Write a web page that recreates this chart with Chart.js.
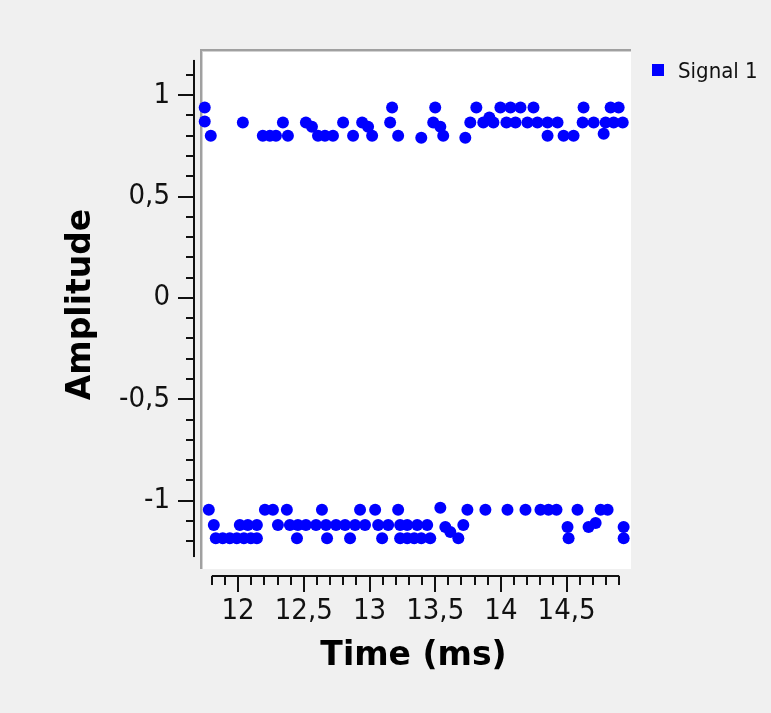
<!DOCTYPE html>
<html>
<head>
<meta charset="utf-8">
<script src="https://cdn.jsdelivr.net/npm/chart.js@4"></script>
<style>
  html, body { margin: 0; padding: 0; background: #f0f0f0; }
  canvas { display: block; }
</style>
</head>
<body>
<canvas id="c" width="771" height="713"></canvas>
<script>
// Labels and tick text
const seriesName = 'Signal 1';
const xTitle = 'Time (ms)';
const yTitle = 'Amplitude';
const xTickValues = [12, 12.5, 13, 13.5, 14, 14.5];
const xTickLabels = ['12', '12,5', '13', '13,5', '14', '14,5'];
const yTickValues = [1, 0.5, 0, -0.5, -1];
const yTickLabels = ['1', '0,5', '0', '-0,5', '-1'];

// Extent of the drawn axis backbones
const xAxisRange = [11.8, 14.9];
const yAxisRange = [-1.278, 1.174];
// Extent of the white plot canvas
const xViewRange = [11.71, 14.99];
const yViewRange = [-1.337, 1.228];

// Samples of the upper cluster (time in ms, amplitude)
const timeUpper = [11.746, 11.746, 11.792, 12.036, 12.188, 12.242, 12.288, 12.341, 12.379, 12.516,
  12.562, 12.608, 12.661, 12.722, 12.799, 12.875, 12.944, 12.989, 13.020, 13.157,
  13.172, 13.218, 13.394, 13.485, 13.500, 13.539, 13.561, 13.729, 13.767, 13.813,
  13.866, 13.912, 13.943, 13.996, 14.042, 14.073, 14.111, 14.149, 14.202, 14.248,
  14.278, 14.355, 14.355, 14.431, 14.477, 14.553, 14.622, 14.629, 14.706, 14.782,
  14.797, 14.835, 14.858, 14.896, 14.927];
const ampUpper = [0.94, 0.87, 0.80, 0.865, 0.80, 0.80, 0.80, 0.865, 0.80, 0.865,
  0.845, 0.80, 0.80, 0.80, 0.865, 0.80, 0.865, 0.845, 0.80, 0.865,
  0.94, 0.80, 0.79, 0.865, 0.94, 0.845, 0.80, 0.79, 0.865, 0.94,
  0.865, 0.89, 0.865, 0.94, 0.865, 0.94, 0.865, 0.94, 0.865, 0.94,
  0.865, 0.865, 0.80, 0.865, 0.80, 0.80, 0.865, 0.94, 0.865, 0.81,
  0.865, 0.94, 0.865, 0.94, 0.865];

// Samples of the lower cluster (time in ms, amplitude)
const timeLower = [11.777, 11.815, 11.830, 11.883, 11.937, 11.990, 12.013, 12.044, 12.074, 12.097,
  12.143, 12.143, 12.204, 12.265, 12.303, 12.371, 12.394, 12.448, 12.455, 12.516,
  12.593, 12.638, 12.669, 12.677, 12.745, 12.814, 12.852, 12.890, 12.928, 12.966,
  13.043, 13.066, 13.096, 13.142, 13.218, 13.233, 13.233, 13.287, 13.287, 13.340,
  13.363, 13.394, 13.439, 13.462, 13.539, 13.577, 13.615, 13.676, 13.714, 13.745,
  13.882, 14.050, 14.187, 14.301, 14.362, 14.423, 14.507, 14.515, 14.583, 14.667,
  14.721, 14.759, 14.812, 14.934, 14.934];
const ampLower = [-1.045, -1.12, -1.185, -1.185, -1.185, -1.185, -1.12, -1.185, -1.12, -1.185,
  -1.12, -1.185, -1.045, -1.045, -1.12, -1.045, -1.12, -1.185, -1.12, -1.12,
  -1.12, -1.045, -1.12, -1.185, -1.12, -1.12, -1.185, -1.12, -1.045, -1.12,
  -1.045, -1.12, -1.185, -1.12, -1.045, -1.12, -1.185, -1.12, -1.185, -1.185,
  -1.12, -1.185, -1.12, -1.185, -1.035, -1.13, -1.155, -1.185, -1.12, -1.045,
  -1.045, -1.045, -1.045, -1.045, -1.045, -1.045, -1.13, -1.185, -1.045, -1.13,
  -1.11, -1.045, -1.045, -1.13, -1.185];

const points = [];
timeUpper.forEach((t, i) => points.push({ x: t, y: ampUpper[i] }));
timeLower.forEach((t, i) => points.push({ x: t, y: ampLower[i] }));

const SERIES_COLOR = '#0000ff';
const TEXT_COLOR = '#111111';
const TICK_FONT = '29px "DejaVu Sans Condensed", "Liberation Sans", sans-serif';
const LEGEND_FONT = '22px "DejaVu Sans Condensed", "Liberation Sans", sans-serif';
const TITLE_FONT = 'bold 33px "DejaVu Sans", sans-serif';

// Draws the sunken plot canvas, detached axes with minor ticks, titles and legend
const plotFrame = {
  id: 'plotFrame',
  beforeDraw(chart) {
    const { ctx, chartArea: a, scales } = chart;
    const xs = scales.x, ys = scales.y;
    ctx.save();
    ctx.fillStyle = '#f0f0f0';
    ctx.fillRect(0, 0, chart.width, chart.height);

    // white plot canvas with a sunken border on the left and top
    const L = a.left, T = a.top, R = a.right, B = a.bottom;
    ctx.fillStyle = '#ffffff';
    ctx.fillRect(L, T, R - L, B - T);
    ctx.fillStyle = '#a0a0a0';
    ctx.fillRect(L, T, R - L, 2);
    ctx.fillRect(L, T, 2, B - T);
    ctx.fillStyle = '#d2d2d2';
    ctx.fillRect(L + 2, T + 2, R - L - 2, 1);
    ctx.fillRect(L + 2, T + 2, 1, B - T - 2);

    ctx.fillStyle = TEXT_COLOR;
    // vertical axis, detached to the left of the canvas
    const x0 = Math.round(a.left - 6);
    const yTop = ys.getPixelForValue(yAxisRange[1]);
    const yBot = ys.getPixelForValue(yAxisRange[0]);
    ctx.fillRect(x0 - 1, yTop, 2, yBot - yTop);
    for (let k = Math.ceil(yAxisRange[0] * 10); k <= Math.floor(yAxisRange[1] * 10); k++) {
      const py = Math.round(ys.getPixelForValue(k / 10));
      const len = (k % 5 === 0) ? 16 : 8;
      ctx.fillRect(x0 - len, py - 1, len, 2);
    }
    ctx.font = TICK_FONT;
    ctx.textAlign = 'right';
    ctx.textBaseline = 'middle';
    yTickValues.forEach((v, i) => ctx.fillText(yTickLabels[i], x0 - 24, ys.getPixelForValue(v)));

    // horizontal axis, detached below the canvas
    const y0 = Math.round(a.bottom + 7);
    const xLeft = xs.getPixelForValue(xAxisRange[0]);
    const xRight = xs.getPixelForValue(xAxisRange[1]);
    ctx.fillRect(xLeft, y0 - 1, xRight - xLeft, 2);
    for (let k = Math.round(xAxisRange[0] * 10); k <= Math.round(xAxisRange[1] * 10); k++) {
      const px = Math.round(xs.getPixelForValue(k / 10));
      const len = (k % 5 === 0) ? 16 : 9;
      ctx.fillRect(px - 1, y0, 2, len);
    }
    ctx.textAlign = 'center';
    xTickValues.forEach((v, i) => ctx.fillText(xTickLabels[i], xs.getPixelForValue(v), y0 + 35));

    // axis titles
    ctx.fillStyle = '#000000';
    ctx.font = TITLE_FONT;
    ctx.fillText(xTitle, (xLeft + xRight) / 2 - 2, y0 + 80);
    ctx.save();
    ctx.translate(81, (yTop + yBot) / 2 - 4);
    ctx.rotate(-Math.PI / 2);
    ctx.fillText(yTitle, 0, 0);
    ctx.restore();

    // legend
    ctx.fillStyle = SERIES_COLOR;
    ctx.fillRect(652, 64, 12, 12);
    ctx.fillStyle = TEXT_COLOR;
    ctx.font = LEGEND_FONT;
    ctx.textAlign = 'left';
    ctx.fillText(seriesName, 678, 72);
    ctx.restore();
  }
};

new Chart(document.getElementById('c').getContext('2d'), {
  type: 'scatter',
  data: {
    datasets: [{
      label: seriesName,
      data: points,
      backgroundColor: SERIES_COLOR,
      borderWidth: 0,
      pointRadius: 6,
      pointHoverRadius: 6,
      clip: false
    }]
  },
  options: {
    responsive: false,
    animation: false,
    devicePixelRatio: 1,
    layout: { padding: { left: 200, right: 140, top: 49, bottom: 144 } },
    plugins: { legend: { display: false }, tooltip: { enabled: false } },
    scales: {
      x: { type: 'linear', min: xViewRange[0], max: xViewRange[1], display: false },
      y: { type: 'linear', min: yViewRange[0], max: yViewRange[1], display: false }
    }
  },
  plugins: [plotFrame]
});
</script>
</body>
</html>
